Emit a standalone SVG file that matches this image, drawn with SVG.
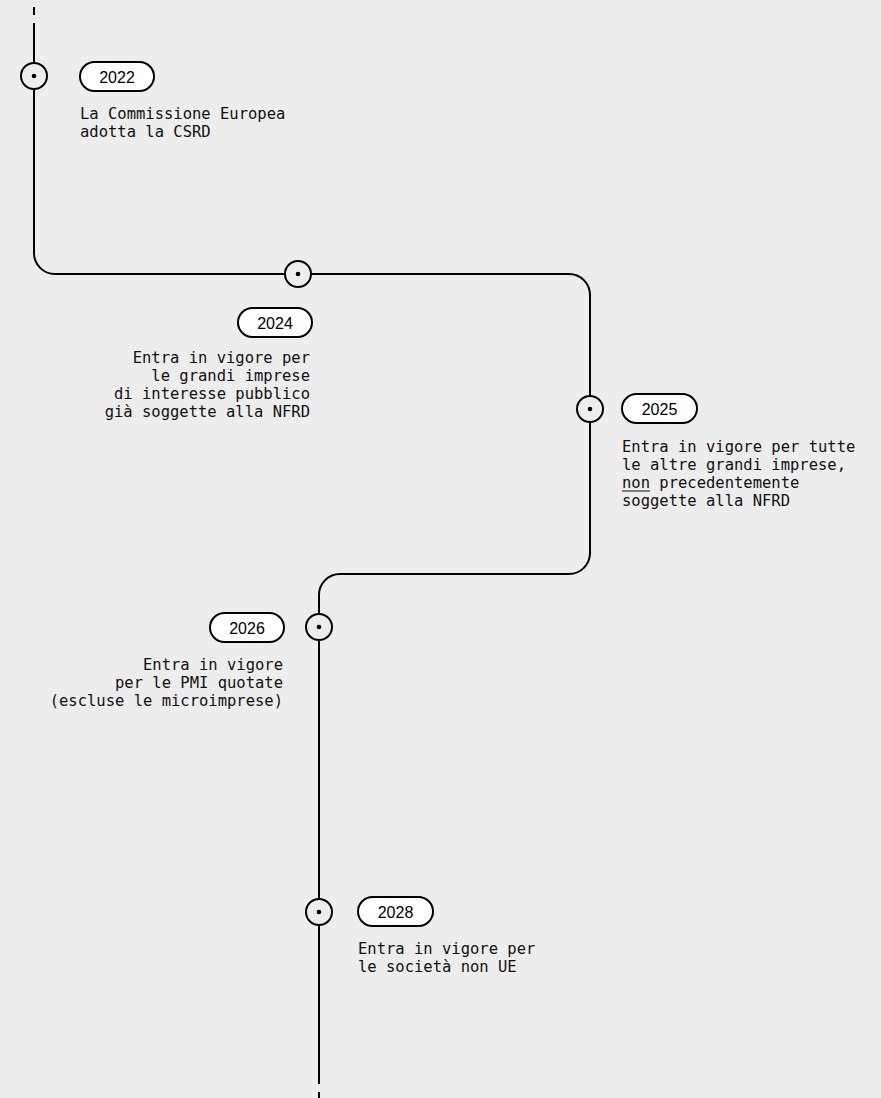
<svg xmlns="http://www.w3.org/2000/svg" width="881" height="1098" viewBox="0 0 881 1098">
<style>
.ln{fill:none;stroke:#000;stroke-width:2}
.c{fill:#ededed;stroke:#000;stroke-width:2}
.pill{fill:#fff;stroke:#000;stroke-width:2}
.yr{font-family:"Liberation Sans",Arial,sans-serif;font-size:16px;fill:#000;text-anchor:middle}
.t{font-family:"DejaVu Sans Mono","Liberation Mono",monospace;font-size:15.5px;fill:#111}
.r{text-anchor:end}
</style>
<rect width="881" height="1098" fill="#ededed"/>
<g id="connectors">
<line class="ln" x1="34" y1="7" x2="34" y2="15"/>
<path class="ln" d="M34 23 V253 A21 21 0 0 0 55 274 H569 A21 21 0 0 1 590 295 V553 A21 21 0 0 1 569 574 H340 A21 21 0 0 0 319 595 V1084"/>
<line class="ln" x1="319" y1="1092" x2="319" y2="1098"/>
</g>
<g id="n2022">
<circle class="c" cx="34" cy="76" r="13"/><circle cx="34" cy="76" r="2.3"/>
<rect class="pill" x="80" y="62" width="74" height="29" rx="14.5"/>
<text class="yr" x="117" y="82.5">2022</text>
<text class="t" x="80" y="119">La Commissione Europea</text>
<text class="t" x="80" y="137">adotta la CSRD</text>
</g>
<g id="n2024">
<circle class="c" cx="298" cy="274" r="13"/><circle cx="298" cy="274" r="2.3"/>
<rect class="pill" x="238" y="308" width="74" height="29" rx="14.5"/>
<text class="yr" x="275" y="328.5">2024</text>
<text class="t r" x="310" y="363">Entra in vigore per</text>
<text class="t r" x="310" y="381">le grandi imprese</text>
<text class="t r" x="310" y="399">di interesse pubblico</text>
<text class="t r" x="310" y="417">già soggette alla NFRD</text>
</g>
<g id="n2025">
<circle class="c" cx="590" cy="409" r="13"/><circle cx="590" cy="409" r="2.3"/>
<rect class="pill" x="622" y="394" width="75" height="29" rx="14.5"/>
<text class="yr" x="659.5" y="414.5">2025</text>
<text class="t" x="622" y="452">Entra in vigore per tutte</text>
<text class="t" x="622" y="470">le altre grandi imprese,</text>
<text class="t" x="622" y="488">non precedentemente</text>
<line x1="622" y1="491" x2="650" y2="491" stroke="#111" stroke-width="1"/>
<text class="t" x="622" y="506">soggette alla NFRD</text>
</g>
<g id="n2026">
<circle class="c" cx="319" cy="627" r="13"/><circle cx="319" cy="627" r="2.3"/>
<rect class="pill" x="210" y="613" width="74" height="29" rx="14.5"/>
<text class="yr" x="247" y="633.5">2026</text>
<text class="t r" x="283" y="670">Entra in vigore</text>
<text class="t r" x="283" y="688">per le PMI quotate</text>
<text class="t r" x="283" y="706">(escluse le microimprese)</text>
</g>
<g id="n2028">
<circle class="c" cx="319" cy="912" r="13"/><circle cx="319" cy="912" r="2.3"/>
<rect class="pill" x="358" y="897" width="75" height="29" rx="14.5"/>
<text class="yr" x="395.5" y="917.5">2028</text>
<text class="t" x="358" y="954">Entra in vigore per</text>
<text class="t" x="358" y="972">le società non UE</text>
</g>
</svg>
